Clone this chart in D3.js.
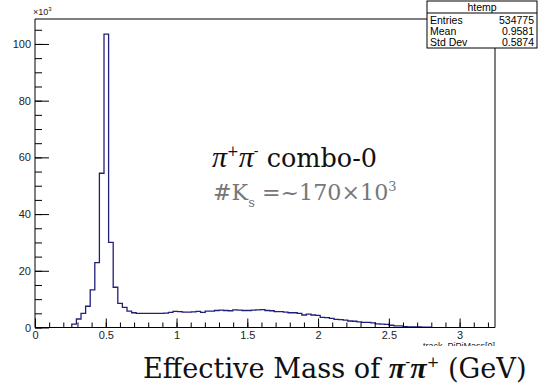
<!DOCTYPE html>
<html>
<head>
<meta charset="utf-8">
<script src="https://cdn.jsdelivr.net/npm/d3@7"></script>
<style>
  body { margin: 0; background: #fff; }
  svg { display: block; }
</style>
</head>
<body>
<div id="chart"></div>
<script>
// histogram: 100 bins from 0 to 3.25 GeV, counts in thousands
var binStart = 0;
var binWidth = 0.0325;
var counts = [
  0, 0, 0, 0, 0, 0, 0, 0, 1.2, 3.0,
  5.0, 7.5, 13.3, 22.9, 54.4, 103.5, 30.0, 14.2, 8.5, 7.1,
  5.8, 5.2, 5.0, 5.0, 5.0, 5.0, 5.0, 5.0, 5.1, 5.3,
  5.7, 5.6, 5.4, 5.4, 5.5, 5.7, 5.3, 5.8, 5.8, 6.0,
  6.1, 6.0, 5.9, 6.2, 6.1, 6.0, 6.0, 6.1, 6.2, 6.3,
  6.0, 5.9, 5.6, 5.6, 5.4, 5.2, 5.2, 5.0, 4.4, 4.7,
  4.4, 4.3, 3.6, 3.5, 3.2, 2.9, 2.8, 2.6, 2.3, 2.2,
  2.0, 1.8, 1.8, 1.6, 1.3, 1.2, 1.1, 0.8, 0.6, 0.6,
  0.3, 0.25, 0.2, 0.2, 0.15, 0.1, 0, 0, 0, 0,
  0, 0, 0, 0, 0, 0, 0, 0, 0, 0
];
var xMajorTicks = [0, 0.5, 1, 1.5, 2, 2.5, 3];
var yMajorTicks = [0, 20, 40, 60, 80, 100];
var statsName = "htemp";
var statsRows = [["Entries", "534775"], ["Mean", "0.9581"], ["Std Dev", "0.5874"]];

function drawHist() {
    var width = 538, height = 388;
    var svg = d3.select("#chart").append("svg")
        .attr("width", width)
        .attr("height", height);

    var mLeft = 35, mRight = 495, mTop = 19, mBottom = 327.5;
    var sans = "Liberation Sans, Arial, sans-serif";
    var serif = "DejaVu Serif, serif";
    var piFont = "Liberation Serif, serif";

    var x = d3.scaleLinear().domain([0, 3.25]).range([mLeft, mRight]);
    var y = d3.scaleLinear().domain([0, 108.8]).range([mBottom, mTop]);

    // histogram steps
    var first = counts.findIndex(function (c) { return c > 0; });
    var last = 0;
    counts.forEach(function (c, i) { if (c > 0) last = i; });
    var pts = [[binStart + first * binWidth, 0]];
    for (var i = first; i <= last; i++) {
        pts.push([binStart + i * binWidth, counts[i]]);
    }
    pts.push([binStart + (last + 1) * binWidth, 0]);

    var line = d3.line()
        .x(function (d) { return x(d[0]); })
        .y(function (d) { return y(d[1]); })
        .curve(d3.curveStepAfter);

    svg.append("path")
        .attr("d", line(pts))
        .attr("fill", "none")
        .attr("stroke", "#20207a")
        .attr("stroke-width", 1.3);

    // frame
    svg.append("line").attr("x1", mLeft).attr("x2", 427).attr("y1", mTop).attr("y2", mTop)
        .attr("stroke", "#000");
    svg.append("line").attr("x1", mRight).attr("x2", mRight).attr("y1", 48).attr("y2", mBottom)
        .attr("stroke", "#000");

    // x axis
    var gx = svg.append("g").attr("transform", "translate(0," + mBottom + ")")
        .call(d3.axisBottom(x).tickValues(xMajorTicks).tickSize(-9)
            .tickFormat(function (d) { return d; }));
    gx.select(".domain").attr("d", "M" + mLeft + ",0H" + mRight);
    gx.selectAll(".tick text").attr("y", 3).attr("dy", "0.75em");
    var gxMinor = svg.append("g").attr("transform", "translate(0," + mBottom + ")")
        .call(d3.axisBottom(x).tickValues(d3.range(0, 3.25, 0.1)).tickSize(-5).tickFormat(""));
    gxMinor.select(".domain").remove();

    // y axis
    var gy = svg.append("g").attr("transform", "translate(" + mLeft + ",0)")
        .call(d3.axisLeft(y).tickValues(yMajorTicks).tickSize(-14));
    gy.select(".domain").attr("d", "M0," + mTop + "V" + mBottom);
    gy.selectAll(".tick text").attr("x", -4);
    var gyMinor = svg.append("g").attr("transform", "translate(" + mLeft + ",0)")
        .call(d3.axisLeft(y).tickValues(d3.range(0, 106, 5)).tickSize(-7).tickFormat(""));
    gyMinor.select(".domain").remove();

    svg.selectAll(".tick text")
        .style("font-family", sans)
        .style("font-size", "11px")
        .attr("fill", "#222");

    svg.append("text")
        .attr("x", 33).attr("y", 15)
        .style("font-family", sans)
        .style("font-size", "9px")
        .attr("fill", "#222")
        .html("×10<tspan dy='-4' font-size='6px'>3</tspan>");

    // x axis title, partly hidden under the big label
    svg.append("text")
        .attr("x", mRight).attr("y", 349)
        .attr("text-anchor", "end")
        .style("font-family", sans)
        .style("font-size", "9px")
        .attr("fill", "#222")
        .text("track_PiPiMass[0]");
    svg.append("rect").attr("x", 140).attr("y", 346).attr("width", 398).attr("height", 42)
        .attr("fill", "#fff");

    // stats box
    var sb = svg.append("g");
    var bx = 427, bw = 110, by = 1;
    sb.append("rect").attr("x", bx).attr("y", by).attr("width", bw).attr("height", 47)
        .attr("fill", "#fff").attr("stroke", "#000");
    sb.append("line").attr("x1", bx).attr("x2", bx + bw).attr("y1", 13).attr("y2", 13)
        .attr("stroke", "#000");
    sb.append("text").attr("x", bx + bw / 2).attr("y", 10.5).attr("text-anchor", "middle")
        .style("font-family", sans).style("font-size", "10.5px")
        .text(statsName);
    statsRows.forEach(function (r, i) {
        var ty = 23.5 + i * 11;
        sb.append("text").attr("x", bx + 3).attr("y", ty)
            .style("font-family", sans).style("font-size", "10.5px")
            .text(r[0]);
        sb.append("text").attr("x", bx + bw - 3).attr("y", ty).attr("text-anchor", "end")
            .style("font-family", sans).style("font-size", "10.5px")
            .text(r[1]);
    });

    // annotations
    svg.append("text")
        .attr("x", 212).attr("y", 167)
        .style("font-family", serif).style("font-size", "25.5px").attr("fill", "#111")
        .html("<tspan font-family='" + piFont + "' font-style='italic' font-size='30px'>π</tspan>" +
              "<tspan dy='-11' font-size='14px'>+</tspan>" +
              "<tspan dy='11' font-family='" + piFont + "' font-style='italic' font-size='30px'>π</tspan>" +
              "<tspan dy='-11' font-size='14px'>-</tspan>" +
              "<tspan dy='11'> combo-0</tspan>");
    svg.append("text")
        .attr("x", 213).attr("y", 200)
        .style("font-family", serif).style("font-size", "22.2px").attr("fill", "#777")
        .html("#K<tspan dy='7' font-size='13px'>s</tspan><tspan dy='-7'> =~170×10</tspan>" +
              "<tspan dy='-9' font-size='13px'>3</tspan>");

    svg.append("text")
        .attr("x", 143).attr("y", 378)
        .style("font-family", serif).style("font-size", "27.2px").attr("fill", "#111")
        .html("Effective Mass of <tspan font-family='" + piFont + "' font-weight='bold' font-style='italic' font-size='30px'>π</tspan>" +
              "<tspan dy='-11' font-size='15px'>-</tspan>" +
              "<tspan dy='11' font-family='" + piFont + "' font-weight='bold' font-style='italic' font-size='30px'>π</tspan>" +
              "<tspan dy='-11' font-size='15px'>+</tspan><tspan dy='11'> (GeV)</tspan>");
}

drawHist();
</script>
</body>
</html>
